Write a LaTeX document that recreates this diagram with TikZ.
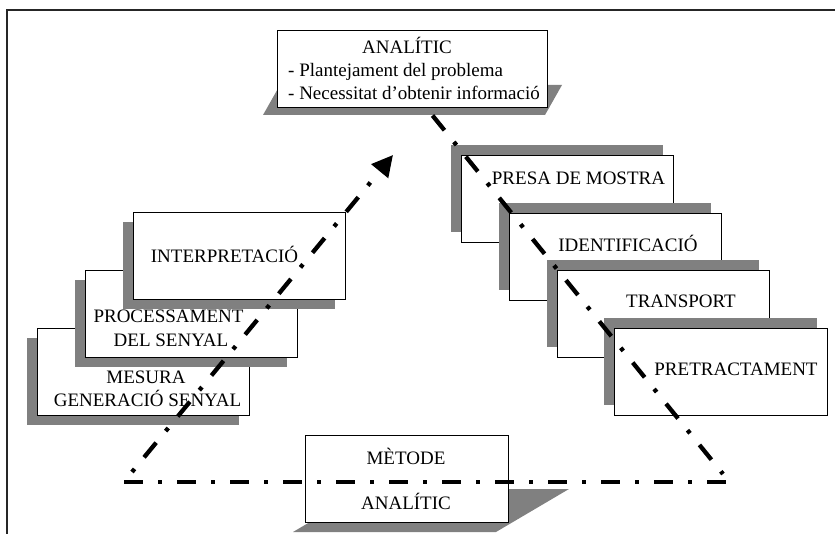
\documentclass[tikz,border=0pt]{standalone}
\usepackage{fontspec}
\setmainfont{Liberation Serif}
\usetikzlibrary{arrows.meta}
\definecolor{shadowgray}{RGB}{128,128,128}
\begin{document}
\begin{tikzpicture}[x=1pt,y=-1pt,
  card/.style={draw=black,line width=1.1pt,fill=white,inner sep=0pt,anchor=north west},
  stackcard/.style={card,minimum width=212pt,minimum height=87pt},
  shade/.style={fill=shadowgray},
  lbl/.style={anchor=base,inner sep=0pt,font=\fontsize{19}{22}\selectfont},
  flow/.style={line width=4.3pt,line cap=butt},
  dashfirst/.style={flow,dash pattern=on 19pt off 15pt on 4pt off 15pt},
  dotfirst/.style={flow,dash pattern=on 4pt off 15pt on 19pt off 15pt},
]
\useasboundingbox (0,0) rectangle (835,534);

% outer frame
\draw[line width=1.5pt,black!85] (7,534) -- (7,10) -- (835,10);

% top box with slanted shadow
\fill[shade] (263,115) -- (545,115) -- (562,85) -- (280,85) -- cycle;
\node[card,minimum width=270pt,minimum height=77pt] (top) at (277,30) {};
\node[lbl] (toptitle) at (407,53.5) {ANALÍTIC};
\node[lbl,anchor=base west] (topa) at (288,77) {- Plantejament del problema};
\node[lbl,anchor=base west] (topb) at (288,99.5) {- Necessitat d’obtenir informació};

% left stack (shadow down-left), back to front
\fill[shade] (27,338) rectangle ++(212,87);
\node[stackcard] (mesura) at (37,328) {};
\node[lbl] (mesuraa) at (146,383) {MESURA};
\node[lbl] (mesurab) at (147.5,406) {GENERACIÓ SENYAL};

\fill[shade] (75,280) rectangle ++(212,87);
\node[stackcard] (proc) at (85,270) {};
\node[lbl] (proca) at (168.5,323) {PROCESSAMENT};
\node[lbl] (procb) at (171,347) {DEL SENYAL};

\fill[shade] (123,222) rectangle ++(212,87);
\node[stackcard] (interp) at (133,212) {};
\node[lbl] (interpa) at (224.5,263) {INTERPRETACIÓ};

% right stack (shadow up-left), back to front
\fill[shade] (451,145) rectangle ++(212,87);
\node[stackcard] (presa) at (461,155) {};
\node[lbl] (presaa) at (578.5,185) {PRESA DE MOSTRA};

\fill[shade] (499,203) rectangle ++(212,87);
\node[stackcard] (ident) at (509,213) {};
\node[lbl] (identa) at (628,252) {IDENTIFICACIÓ};

\fill[shade] (547,260) rectangle ++(212,87);
\node[stackcard] (transp) at (557,270) {};
\node[lbl] (transpa) at (681,308) {TRANSPORT};

\fill[shade] (604,318) rectangle ++(213,87);
\node[stackcard,minimum width=213pt] (pretr) at (614,328) {};
\node[lbl] (pretra) at (736,376) {PRETRACTAMENT};

% bottom box with slanted shadow
\fill[shade] (293,532) -- (496,532) -- (569,489) -- (366,489) -- cycle;
\node[card,minimum width=203pt,minimum height=87pt] (method) at (305,435) {};
\node[lbl] (methoda) at (406,464) {MÈTODE};
\node[lbl] (methodb) at (406,509) {ANALÍTIC};

% dash-dot guide lines
\coordinate (hl) at (124,482);
\coordinate (hr) at (726,482);
\coordinate (lb) at (132,472);
\coordinate (tip) at (393,155);
\coordinate (rt) at (432.5,115.5);
\coordinate (rb) at (723,474);

\draw[dashfirst] (hl) -- (hr);
\draw[dashfirst] (rt) -- (rb);
\draw[dotfirst,-{Triangle[length=21pt,width=21pt]}] (lb) -- (tip);
\end{tikzpicture}
\end{document}
